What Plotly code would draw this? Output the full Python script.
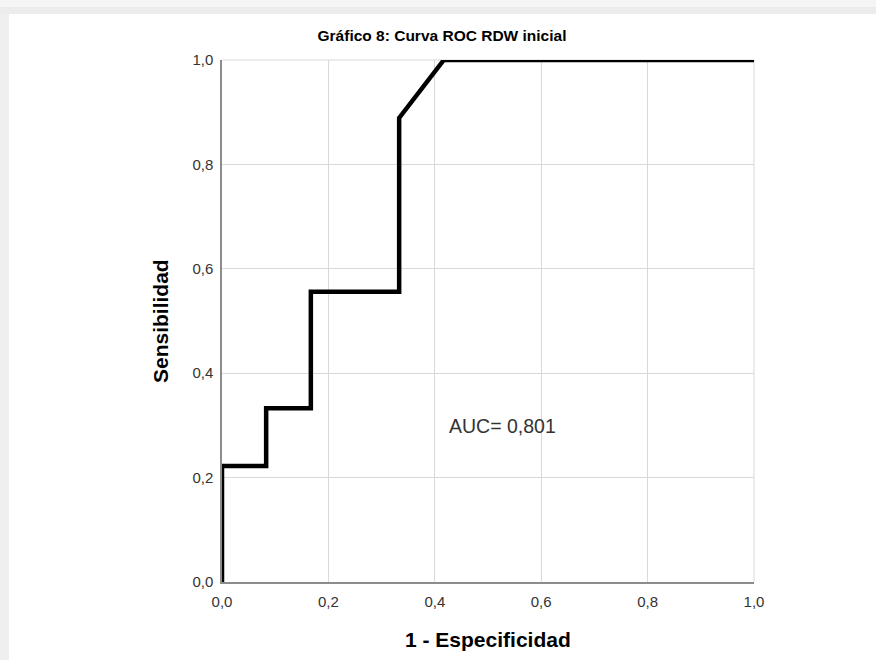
import plotly.graph_objects as go

# ROC curve data (1 - especificidad, sensibilidad)
fpr = [0.0, 0.0, 0.083, 0.083, 0.167, 0.167, 0.333, 0.333, 0.417, 1.0]
tpr = [0.0, 0.222, 0.222, 0.333, 0.333, 0.556, 0.556, 0.889, 1.0, 1.0]
tick_vals = [0.0, 0.2, 0.4, 0.6, 0.8, 1.0]
tick_text = ["0,0", "0,2", "0,4", "0,6", "0,8", "1,0"]
title_text = "Gráfico 8: Curva ROC RDW inicial"
auc_text = "AUC= 0,801"

FONT = "Arial, Liberation Sans, sans-serif"
L, R, T, B = 222, 122, 60, 78
W, H = 876, 660
PW, PH = W - L - R, H - T - B

def px2paper_x(px):
    return (px - L) / PW

def px2paper_y(py):
    return (H - B - py) / PH

fig = go.Figure()
fig.add_trace(go.Scatter(
    x=fpr, y=tpr, mode="lines",
    line=dict(color="black", width=4.5),
    cliponaxis=False, showlegend=False, hoverinfo="skip",
))

shapes = [
    # page background bands
    dict(type="rect", xref="paper", yref="paper", x0=px2paper_x(0), x1=px2paper_x(W),
         y0=px2paper_y(7), y1=px2paper_y(0), fillcolor="#f5f5f5", line_width=0, layer="below"),
    dict(type="rect", xref="paper", yref="paper", x0=px2paper_x(0), x1=px2paper_x(W),
         y0=px2paper_y(14), y1=px2paper_y(7), fillcolor="#ececec", line_width=0, layer="below"),
    dict(type="rect", xref="paper", yref="paper", x0=px2paper_x(0), x1=px2paper_x(9),
         y0=px2paper_y(H), y1=px2paper_y(14), fillcolor="#efefef", line_width=0, layer="below"),
    # top and right frame grid lines
    dict(type="line", xref="paper", yref="paper", x0=0, x1=1, y0=1, y1=1,
         line=dict(color="#d9d9d9", width=1), layer="below"),
    dict(type="line", xref="paper", yref="paper", x0=1, x1=1, y0=0, y1=1,
         line=dict(color="#d9d9d9", width=1), layer="below"),
]

annotations = [
    dict(text=auc_text, x=px2paper_x(447), y=0.299, xref="x", yref="y", xanchor="left", yanchor="middle",
         showarrow=False, font=dict(family=FONT, size=19.5, color="#333333")),
    dict(text="<b>Sensibilidad</b>", x=px2paper_x(160), y=0.5, xref="paper", yref="paper",
         xanchor="center", yanchor="middle", textangle=-90, showarrow=False,
         font=dict(family=FONT, size=21, color="black")),
    dict(text="<b>1 - Especificidad</b>", x=0.5, y=px2paper_y(639), xref="paper", yref="paper",
         xanchor="center", yanchor="middle", showarrow=False,
         font=dict(family=FONT, size=21, color="black")),
]

axis_common = dict(
    range=[0, 1], tickvals=tick_vals, ticktext=tick_text,
    showgrid=True, gridcolor="#d9d9d9", gridwidth=1,
    showline=True, linecolor="#8c8c8c", linewidth=1.5,
    zeroline=False, ticks="", fixedrange=True,
    tickfont=dict(family=FONT, size=15, color="#333333"),
)

fig.update_layout(
    width=W, height=H,
    margin=dict(l=L, r=R, t=T, b=B, pad=0),
    paper_bgcolor="white", plot_bgcolor="white",
    title=dict(text="<b>" + title_text + "</b>", x=px2paper_x(442), xref="paper", xanchor="center",
               y=1 - 36 / H, yref="container", yanchor="middle",
               font=dict(family=FONT, size=15.5, color="black")),
    xaxis=dict(**axis_common, ticklabelstandoff=5),
    yaxis=dict(**axis_common, ticklabelstandoff=4),
    shapes=shapes, annotations=annotations,
    showlegend=False,
)

fig.write_html("out.html", config={"displayModeBar": False},
               post_script="document.body.style.margin='0px';document.body.style.padding='0px';")
